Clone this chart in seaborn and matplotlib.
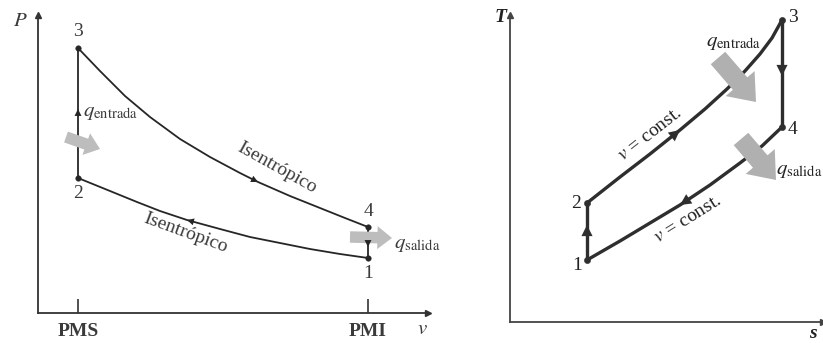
import seaborn as sns
import numpy as np
import matplotlib.pyplot as plt

# --- P-v diagram (left), units ---
v_pms, v_pmi = 40, 330
pv_upper_v = [40, 62, 87, 112, 142, 172, 202, 220, 252, 282, 307, 330]   # 3 -> 4
pv_upper_p = [265, 242, 217, 196, 174, 156, 140, 131, 117, 105, 95, 86]
pv_lower_v = [40, 72, 99, 122, 149, 182, 212, 242, 272, 302, 330]        # 2 -> 1
pv_lower_p = [135, 122, 111, 102, 93, 84, 76, 70, 64, 59, 55]
pv_states = ['1', '2', '3', '4']
pv_state_v = [330, 40, 40, 330]
pv_state_p = [55, 135, 265, 86]

# --- T-s diagram (right) ---
ts_upper_s = [77, 110, 140, 170, 195, 217, 235, 250, 262, 272]          # 2 -> 3
ts_upper_t = [119, 145, 168, 192, 213, 233, 251, 268, 284, 302]
ts_lower_s = [77, 110, 140, 170, 200, 230, 252, 272]                     # 1 -> 4
ts_lower_t = [62, 81, 99, 117, 137, 159, 176, 195]
ts_states = ['1', '2', '3', '4']
ts_state_s = [77, 77, 272, 272]
ts_state_t = [62, 119, 302, 195]

sns.set_theme(style="white")
plt.rcParams['font.family'] = ['Liberation Serif', 'DejaVu Serif']
plt.rcParams['mathtext.fontset'] = 'stix'


def line(ax, x, y, color, lw):
    sns.lineplot(x=x, y=y, ax=ax, color=color, lw=lw, sort=False, estimator=None)


def head(ax, p_from, p_to, color, size):
    # small arrowhead showing the direction of the process
    ax.annotate('', xy=p_to, xytext=p_from,
                arrowprops=dict(arrowstyle='-|>,head_length=0.5,head_width=0.25', color=color, lw=0,
                                mutation_scale=size, shrinkA=0, shrinkB=0))


def heat(ax, p_from, p_to, scale, color):
    ax.annotate('', xy=p_to, xytext=p_from,
                arrowprops=dict(arrowstyle='simple,head_length=0.7,head_width=1.1,tail_width=0.55',
                                color=color, lw=0, mutation_scale=scale,
                                shrinkA=0, shrinkB=0))


def axes_frame(ax, color, lw):
    sns.despine(ax=ax)
    for sp in ['left', 'bottom']:
        ax.spines[sp].set_color(color)
        ax.spines[sp].set_linewidth(lw)
    ax.plot(1, 0, '>', color=color, ms=5, transform=ax.get_yaxis_transform(), clip_on=False)
    ax.plot(0, 1, '^', color=color, ms=5, transform=ax.get_xaxis_transform(), clip_on=False)
    ax.set_yticks([])
    ax.patch.set_alpha(0)


fig = plt.figure(figsize=(8.23, 3.43), dpi=100)

# ---------------- left: P-v ----------------
axL = fig.add_axes([38 / 823, 30 / 343, 390 / 823, 298 / 343])
axL.set_xlim(0, 390)
axL.set_ylim(0, 298)
cL = '#262626'
tL = '#3a3a3a'
heat(axL, (28, 176), (62, 164), 15, '#bdbdbd')
heat(axL, (312, 76), (354, 75), 15, '#bdbdbd')
line(axL, pv_upper_v, pv_upper_p, cL, 1.3)
line(axL, pv_lower_v, pv_lower_p, cL, 1.3)
line(axL, [v_pms, v_pms], [pv_lower_p[0], pv_upper_p[0]], cL, 1.3)
line(axL, [v_pmi, v_pmi], [pv_lower_p[-1], pv_upper_p[-1]], cL, 1.3)
sns.scatterplot(x=pv_state_v, y=pv_state_p, ax=axL, color=cL, s=16, edgecolor=cL, zorder=5)
head(axL, (pv_upper_v[6], pv_upper_p[6]), (pv_upper_v[7], pv_upper_p[7]), cL, 10)
head(axL, (pv_lower_v[5], pv_lower_p[5]), (pv_lower_v[4], pv_lower_p[4]), cL, 10)
head(axL, (v_pms, 194), (v_pms, 204), cL, 10)
head(axL, (v_pmi, 76), (v_pmi, 66), cL, 10)
axes_frame(axL, '#333333', 1.3)
axL.set_xticks([v_pms, v_pmi], ['PMS', 'PMI'], fontsize=14, color=tL, fontweight='bold')
axL.tick_params(axis='x', bottom=True, direction='in', length=10, width=1.2,
                color='#333333', pad=7)
axL.set_xlabel('')
offs = {'1': (0, -16), '2': (0, -16), '3': (0, 16), '4': (0, 15)}
for lab, vx, py in zip(pv_states, pv_state_v, pv_state_p):
    axL.text(vx + offs[lab][0], py + offs[lab][1], lab, fontsize=14, color=tL,
             ha='center', va='center')
axL.text(-18, 291, r'$P$', fontsize=15, color=tL, ha='center', va='center')
axL.text(384, -17, r'$v$', fontsize=15, color=tL, ha='center', va='center')
axL.text(45, 201, r'$q_{\mathrm{entrada}}$', fontsize=15, color=tL, ha='left', va='center')
axL.text(356, 69, r'$q_{\mathrm{salida}}$', fontsize=15, color=tL, ha='left', va='center')
axL.text(239, 145, 'Isentrópico', fontsize=14, color=tL, rotation=-29,
         ha='center', va='center', rotation_mode='anchor')
axL.text(148, 80, 'Isentrópico', fontsize=14, color=tL, rotation=-20,
         ha='center', va='center', rotation_mode='anchor')

# ---------------- right: T-s ----------------
axR = fig.add_axes([510 / 823, 21 / 343, 313 / 823, 307 / 343])
axR.set_xlim(0, 313)
axR.set_ylim(0, 307)
cR = '#2e2e2e'
tR = '#222222'
heat(axR, (208, 264), (246, 220), 25, '#b0b0b0')
heat(axR, (231, 183), (266, 142), 25, '#b0b0b0')
line(axR, ts_upper_s, ts_upper_t, cR, 2.4)
line(axR, ts_lower_s, ts_lower_t, cR, 2.4)
line(axR, [ts_state_s[0], ts_state_s[1]], [ts_state_t[0], ts_state_t[1]], cR, 2.4)
line(axR, [ts_state_s[2], ts_state_s[3]], [ts_state_t[2], ts_state_t[3]], cR, 2.4)
sns.scatterplot(x=ts_state_s, y=ts_state_t, ax=axR, color=cR, s=20, edgecolor=cR, zorder=5)
head(axR, (ts_upper_s[2], ts_upper_t[2]), (ts_upper_s[3], ts_upper_t[3]), cR, 16)
head(axR, (ts_lower_s[4], ts_lower_t[4]), (ts_lower_s[3], ts_lower_t[3]), cR, 16)
head(axR, (272, 260), (272, 246), cR, 16)
head(axR, (77, 84), (77, 97), cR, 16)
axes_frame(axR, '#444444', 1.3)
axR.set_xticks([])
offs = {'1': (-10, -5), '2': (-11, 0), '3': (11, 2), '4': (11, -3)}
for lab, sx, ty in zip(ts_states, ts_state_s, ts_state_t):
    axR.text(sx + offs[lab][0], ty + offs[lab][1], lab, fontsize=14, color=tR,
             ha='center', va='center')
axR.text(-9, 305, 'T', fontsize=14, color=tR, style='italic', fontweight='bold',
         ha='center', va='center')
axR.text(303, -11, 's', fontsize=14, color=tR, style='italic', fontweight='bold',
         ha='center', va='center')
axR.text(196, 279, r'$q_{\mathrm{entrada}}$', fontsize=15, color=tR, ha='left', va='center')
axR.text(266, 152, r'$q_{\mathrm{salida}}$', fontsize=15, color=tR, ha='left', va='center')
axR.text(140, 188, r'$v$ = const.', fontsize=14, color=tR, rotation=38,
         ha='center', va='center', rotation_mode='anchor')
axR.text(178, 103, r'$v$ = const.', fontsize=14, color=tR, rotation=32,
         ha='center', va='center', rotation_mode='anchor')

fig.savefig('out.png', dpi=100)
